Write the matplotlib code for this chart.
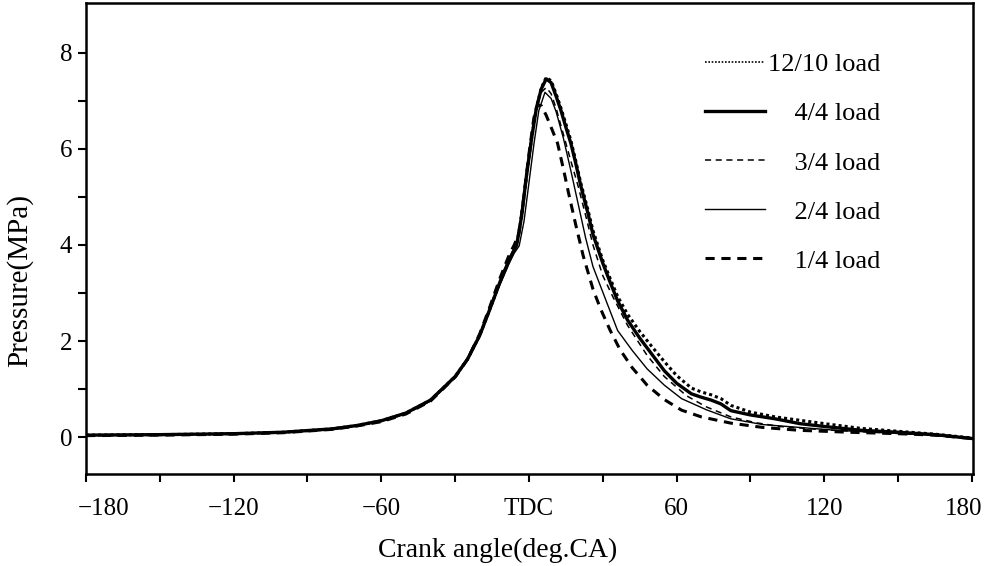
import matplotlib
matplotlib.use("Agg")
import matplotlib.pyplot as plt
from matplotlib.transforms import ScaledTranslation

# crank angle (deg) and cylinder pressure (MPa)
ang_full = [-180, -150, -120, -100, -80, -70, -60, -50, -40, -30, -25, -20, -16, -12, -8, -5,
            -3, -1, 1, 3, 5, 7, 9, 11, 13, 15, 17, 19, 21, 24, 26, 30, 33, 36, 40, 45, 50,
            55, 60, 66, 70, 74, 78, 82, 90, 100, 110, 120, 135, 150, 165, 180]
p_12_10 = [0.04, 0.05, 0.07, 0.10, 0.17, 0.24, 0.34, 0.50, 0.77, 1.26, 1.62, 2.12, 2.65, 3.20,
           3.70, 4.00, 4.60, 5.45, 6.20, 6.85, 7.27, 7.49, 7.42, 7.15, 6.85, 6.52, 6.18, 5.75,
           5.30, 4.72, 4.30, 3.68, 3.30, 2.93, 2.56, 2.20, 1.88, 1.57, 1.28, 1.02, 0.94, 0.88,
           0.80, 0.66, 0.52, 0.42, 0.35, 0.28, 0.18, 0.12, 0.06, -0.02]
p_4_4 = [0.04, 0.05, 0.07, 0.10, 0.17, 0.24, 0.34, 0.50, 0.77, 1.26, 1.62, 2.12, 2.65, 3.20,
         3.70, 4.00, 4.60, 5.45, 6.20, 6.85, 7.25, 7.46, 7.38, 7.10, 6.80, 6.45, 6.12, 5.70,
         5.24, 4.65, 4.22, 3.62, 3.22, 2.84, 2.44, 2.06, 1.72, 1.38, 1.12, 0.90, 0.83, 0.77,
         0.69, 0.55, 0.46, 0.38, 0.28, 0.22, 0.14, 0.10, 0.05, -0.03]

ang_34 = [-180, -150, -120, -100, -80, -70, -60, -50, -40, -30, -25, -20, -16, -12, -8, -5,
          -3, -1, 1, 3, 5, 7, 9, 11, 14, 17, 20, 23, 26, 30, 34, 40, 48, 55, 64, 72, 82, 92,
          102, 120, 140, 160, 180]
p_3_4 = [0.04, 0.05, 0.07, 0.10, 0.17, 0.24, 0.33, 0.49, 0.76, 1.26, 1.62, 2.12, 2.65, 3.20,
         3.72, 4.05, 4.65, 5.50, 6.25, 6.85, 7.18, 7.28, 7.15, 6.85, 6.30, 5.75, 5.22, 4.62,
         4.00, 3.36, 2.93, 2.33, 1.70, 1.26, 0.86, 0.63, 0.42, 0.30, 0.22, 0.15, 0.10, 0.05,
         -0.03]

ang_24 = [-180, -150, -120, -100, -80, -70, -60, -50, -40, -30, -25, -20, -16, -12, -8, -6,
          -4, -2, 0, 2, 4, 6.5, 9, 11, 14, 17, 20, 23, 26, 29, 32, 36, 42, 48, 55, 62, 72, 82,
          95, 110, 125, 140, 160, 180]
p_2_4 = [0.04, 0.05, 0.08, 0.10, 0.17, 0.24, 0.33, 0.49, 0.75, 1.25, 1.60, 2.10, 2.62, 3.15,
         3.62, 3.83, 3.98, 4.50, 5.30, 6.10, 6.80, 7.18, 7.05, 6.78, 6.22, 5.55, 4.85, 4.15,
         3.55, 3.15, 2.75, 2.22, 1.80, 1.42, 1.08, 0.80, 0.57, 0.38, 0.26, 0.20, 0.14, 0.10,
         0.05, -0.03]

ang_14 = [-180, -150, -120, -100, -80, -70, -60, -50, -40, -30, -25, -20, -16, -12, -8, -6,
          -4, -2, 0, 2, 3.5, 5, 7, 9, 11.6, 14, 16, 19, 22, 26, 29, 33, 37, 42, 48, 55, 62, 70,
          82, 95, 110, 130, 150, 165, 180]
p_1_4 = [0.03, 0.04, 0.06, 0.09, 0.16, 0.23, 0.32, 0.48, 0.75, 1.25, 1.62, 2.15, 2.70, 3.28,
         3.80, 4.00, 4.25, 5.05, 5.90, 6.65, 6.92, 6.90, 6.70, 6.45, 6.12, 5.58, 5.10, 4.42,
         3.78, 3.08, 2.68, 2.22, 1.82, 1.44, 1.08, 0.78, 0.56, 0.42, 0.29, 0.20, 0.14, 0.10,
         0.07, 0.04, -0.03]

# labels padded with figure spaces so they line up on the right like the original
labels = ['12/10 load', '\u2007\u20074/4 load', '\u2007\u20073/4 load',
          '\u2007\u20072/4 load', '\u2007\u20071/4 load']

x_ticks = [-180, -150, -120, -90, -60, -30, 0, 30, 60, 90, 120, 150, 180]
x_tick_labels = ['\u2212180', '', '\u2212120', '', '\u221260', '', 'TDC', '', '60', '',
                 '120', '', '180']
y_ticks = [0, 1, 2, 3, 4, 5, 6, 7, 8]
y_tick_labels = ['0', '', '2', '', '4', '', '6', '', '8']

serif = ['Liberation Serif', 'DejaVu Serif']

fig = plt.figure(figsize=(9.86, 5.66), dpi=100)
ax = fig.add_axes([0.0872, 0.1625, 0.8996, 0.8322])

ax.plot(ang_full, p_12_10, color='black', lw=2.2, ls=(0, (1, 1)), label=labels[0])
ax.plot(ang_full, p_4_4, color='black', lw=2.4, ls='-', label=labels[1])
ax.plot(ang_34, p_3_4, color='black', lw=1.1, ls=(0, (4, 3)), label=labels[2])
ax.plot(ang_24, p_2_4, color='black', lw=1.0, ls='-', label=labels[3])
ax.plot(ang_14, p_1_4, color='black', lw=2.2, ls=(0, (3, 2.2)), label=labels[4])

ax.set_xlim(-179.2, 180.4)
ax.set_ylim(-0.77, 9.04)

ax.set_xticks(x_ticks)
ax.set_xticklabels(x_tick_labels, fontfamily=serif, fontsize=18)
ax.set_yticks(y_ticks)
ax.set_yticklabels(y_tick_labels, fontfamily=serif, fontsize=18)
ax.tick_params(direction='out', length=6, width=1.5)
ax.tick_params(axis='x', pad=11)
ax.tick_params(axis='y', pad=4)

# end labels are nudged inward, as in the original
xlabs = ax.get_xticklabels()
first, last = xlabs[0], xlabs[-1]
first.set_transform(first.get_transform() + ScaledTranslation(18 / 100, 0, fig.dpi_scale_trans))
last.set_transform(last.get_transform() + ScaledTranslation(-8 / 100, 0, fig.dpi_scale_trans))

for s in ax.spines.values():
    s.set_linewidth(1.8)

ax.set_xlabel('Crank angle(deg.CA)', fontfamily=serif, fontsize=20)
ax.xaxis.set_label_coords(0.464, -0.135)
ax.set_ylabel('Pressure(MPa)', fontfamily=serif, fontsize=21)
ax.yaxis.set_label_coords(-0.06, 0.41)

leg = ax.legend(loc='upper left', bbox_to_anchor=(0.698, 0.894), frameon=False,
                prop={'family': serif, 'size': 19},
                handlelength=2.27, handletextpad=0.1, labelspacing=0.97,
                borderpad=0, borderaxespad=0)
leg_lines = leg.get_lines()
leg_lines[0].set_linewidth(1.2)

fig.savefig('out.png', dpi=100)
